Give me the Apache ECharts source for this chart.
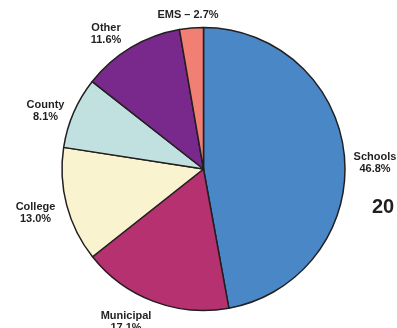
<!DOCTYPE html>
<html>
<head>
<meta charset="utf-8">
<script src="https://cdn.jsdelivr.net/npm/echarts@6/dist/echarts.min.js"></script>
<style>
html,body{margin:0;padding:0;background:#fff;}
#chart{width:397px;height:328px;}
</style>
</head>
<body>
<div id="chart"></div>
<script>
const categories = ['Schools', 'Municipal', 'College', 'County', 'Other', 'EMS'];
const values = [46.8, 17.1, 13.0, 8.1, 11.6, 2.7];
const colors = ['#4a87c7', '#b5316f', '#faf3cf', '#c0e1df', '#79288b', '#f27f74'];
const sideText = '20';

// label anchor positions (px), layout only
const labelPos = [[375, 163], [126, 322], [35.5, 213], [45.5, 111], [106, 34], [188, 15]];

const chart = echarts.init(document.getElementById('chart'), null, {renderer: 'canvas'});
chart.setOption({
  animation: false,
  graphic: [{
    type: 'text', left: 372, top: 197,
    style: {text: sideText, font: 'bold 20px "Liberation Sans", Arial, sans-serif', fill: '#231f20'}
  }],
  series: [{
    type: 'pie',
    center: [203.5, 169],
    radius: 141.5,
    startAngle: 90,
    clockwise: true,
    avoidLabelOverlap: false,
    itemStyle: {borderColor: '#231f20', borderWidth: 1.5},
    label: {
      show: true,
      color: '#231f20',
      fontFamily: '"Liberation Sans", Arial, sans-serif',
      fontWeight: 'bold',
      fontSize: 11,
      lineHeight: 12,
      formatter: p => p.name === 'EMS' ? p.name + ' \u2013 ' + p.value.toFixed(1) + '%' : p.name + '\n' + p.value.toFixed(1) + '%'
    },
    labelLine: {show: false},
    labelLayout: p => ({x: labelPos[p.dataIndex][0], y: labelPos[p.dataIndex][1], align: 'center', verticalAlign: 'middle', hideOverlap: false}),
    emphasis: {disabled: true},
    data: categories.map((c, i) => ({name: c, value: values[i], itemStyle: {color: colors[i]}}))
  }]
});
</script>
</body>
</html>
